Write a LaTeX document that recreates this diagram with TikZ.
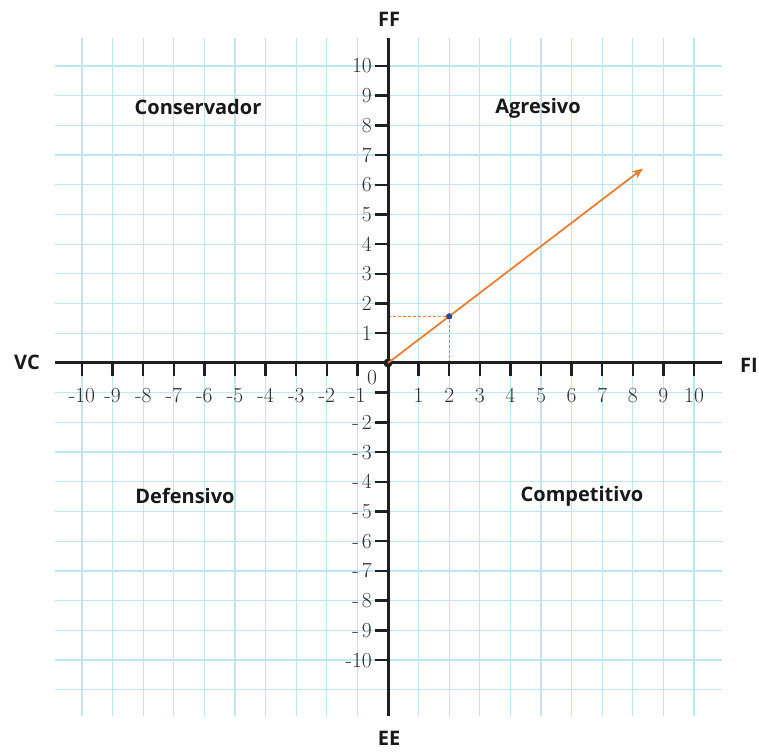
\documentclass[tikz,border=0pt]{standalone}
\usepackage{fontspec}
\newfontfamily\qfont{Open Sans}
\usetikzlibrary{arrows.meta}
\definecolor{gridc}{RGB}{190,230,238}
\definecolor{orangec}{RGB}{237,125,49}
\definecolor{bluec}{RGB}{47,72,150}
\begin{document}
\begin{tikzpicture}[x=30.6pt,y=29.7pt,
  quad/.style={font=\qfont\bfseries\fontsize{20}{24}\selectfont, text=black!90, inner sep=0pt},
  num/.style={font=\fontsize{21.5}{24}\selectfont, text=black!82, inner sep=0pt},
  gridl/.style={draw=gridc, line width=1.2pt},
  axisl/.style={line width=3pt, draw=black!88},
  tickl/.style={line width=2.4pt, draw=black!88},
  dotb/.style={circle, fill=black!88, inner sep=0pt, minimum size=9pt},
  dotp/.style={circle, fill=bluec, inner sep=0pt, minimum size=6pt}]
\useasboundingbox (-388pt,-388pt) rectangle (371pt,363pt);
\fill[white] (-388pt,-388pt) rectangle (371pt,363pt);
% grid
\foreach \y in {-11,...,10} \draw[gridl] (-10.88,\y) -- (10.92,\y);
\foreach \x in {-10,...,10} \draw[gridl] (\x,10.94) -- (\x,-11.89);
% point and dashed guides
\node[dotp] (P) at (2,1.57) {};
\coordinate (Py) at (0,1.57);
\coordinate (Px) at (2,0);
\draw[orangec, line width=0.8pt, dash pattern=on 3pt off 2pt] (Py) -- (P.center) -- (Px);
% axes
\coordinate (xl) at (-10.88,0);
\coordinate (xr) at (10.92,0);
\coordinate (yt) at (0,10.94);
\coordinate (yb) at (0,-11.89);
\draw[axisl] (xl) -- (xr);
\draw[axisl] (yt) -- (yb);
% ticks
\foreach \x in {-10,...,-1,1,2,...,10} \draw[tickl] (\x,0) -- ++(0pt,-13pt);
\foreach \y in {-10,...,-1,1,2,...,10} \draw[tickl] (0,\y) -- ++(-13pt,0pt);
% x labels
\foreach \x in {-10,...,-1,1,2,...,10}
  \node[num, anchor=base] (xlab\x) at ([yshift=-40pt]\x,0) {\x};
% y labels
\foreach \y in {1,...,10}
  \node[num, anchor=base east] (ylab\y) at ([xshift=-16pt,yshift=-7pt]0,\y) {\y};
\foreach \y in {2,...,9}
  \node[num, anchor=base east] (ylabm\y) at ([xshift=-16pt,yshift=-7pt]0,-\y) {-\hspace{3pt}\y};
\node[num, anchor=base east] (ylabm10) at ([xshift=-16pt,yshift=-7pt]0,-10) {-10};
\node[num] (zero) at (-16pt,-15pt) {0};
% vector
\node[dotb] (O) at (0,0) {};
\coordinate (A) at (8.33,6.55);
\draw[orangec, line width=1.8pt, -{Stealth[length=11pt,width=9pt]}] (O.center) -- (A);
\node[dotp] (P2) at (2,1.57) {};
% axis names
\node[quad] (VC) at (-361pt,1pt) {VC};
\node[quad] (FI) at (361pt,-2pt) {FI};
\node[quad] (FF) at (1pt,344pt) {FF};
\node[quad] (EE) at (1pt,-375pt) {EE};
% quadrant names
\node[quad] (cons) at (-190pt,256pt) {Conservador};
\node[quad] (agr) at (150pt,255pt) {Agresivo};
\node[quad] (def) at (-203pt,-133pt) {Defensivo};
\node[quad] (comp) at (194pt,-133pt) {Competitivo};
\end{tikzpicture}
\end{document}
